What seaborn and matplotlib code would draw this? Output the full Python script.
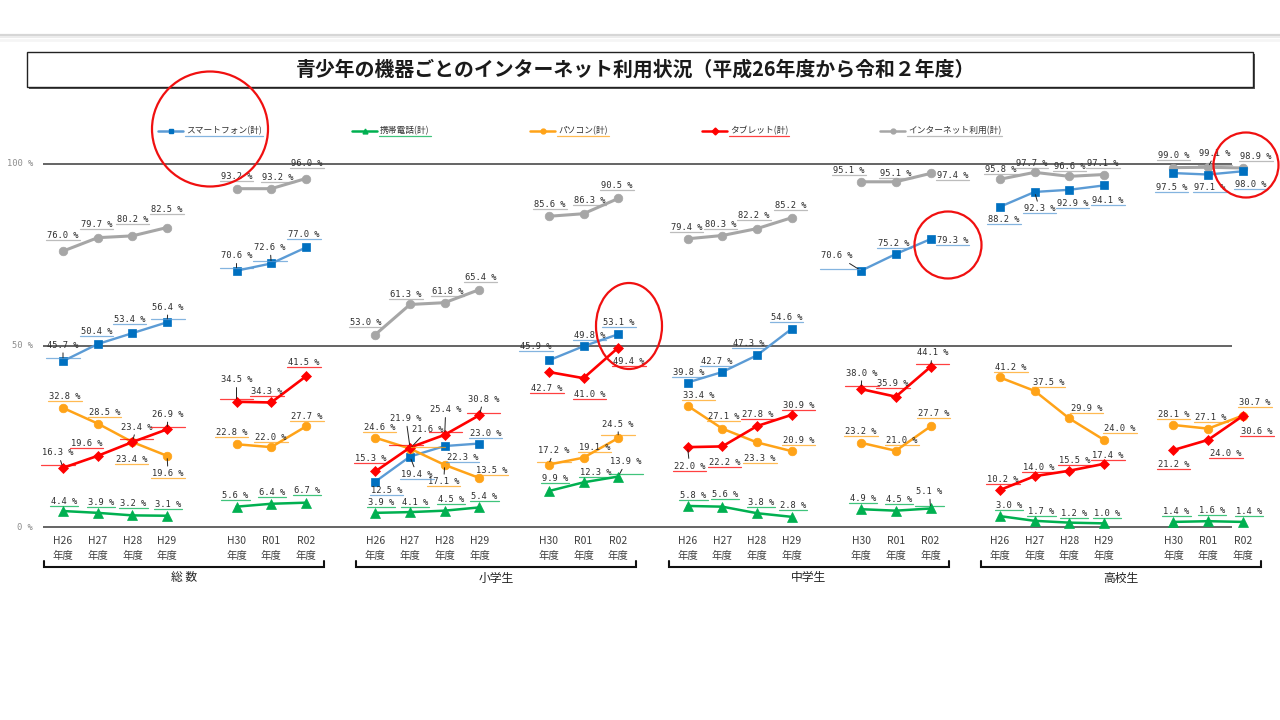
import numpy as np
import pandas as pd
import matplotlib
matplotlib.use("Agg")
import matplotlib.pyplot as plt
from matplotlib.lines import Line2D
from matplotlib.patches import Rectangle, Ellipse
from matplotlib.transforms import IdentityTransform
import seaborn as sns

# --- data -----------------------------------------------------------------
groups = ["総数", "小学生", "中学生", "高校生"]
group_titles = ["総 数", "小学生", "中学生", "高校生"]
years = ["H26", "H27", "H28", "H29", "H30", "R01", "R02"]
devices = ["スマートフォン(計)", "携帯電話(計)", "パソコン(計)", "タブレット(計)", "インターネット利用(計)"]

# one list per group (総数, 小学生, 中学生, 高校生), values for H26..R02
smartphone = [[45.7, 50.4, 53.4, 56.4, 70.6, 72.6, 77.0],
              [12.5, 19.4, 22.3, 23.0, 45.9, 49.8, 53.1],
              [39.8, 42.7, 47.3, 54.6, 70.6, 75.2, 79.3],
              [88.2, 92.3, 92.9, 94.1, 97.5, 97.1, 98.0]]
keitai = [[4.4, 3.9, 3.2, 3.1, 5.6, 6.4, 6.7],
          [3.9, 4.1, 4.5, 5.4, 9.9, 12.3, 13.9],
          [5.8, 5.6, 3.8, 2.8, 4.9, 4.5, 5.1],
          [3.0, 1.7, 1.2, 1.0, 1.4, 1.6, 1.4]]
pasokon = [[32.8, 28.5, 23.4, 19.6, 22.8, 22.0, 27.7],
           [24.6, 21.6, 17.1, 13.5, 17.2, 19.1, 24.5],
           [33.4, 27.1, 23.3, 20.9, 23.2, 21.0, 27.7],
           [41.2, 37.5, 29.9, 24.0, 28.1, 27.1, 30.7]]
tablet = [[16.3, 19.6, 23.4, 26.9, 34.5, 34.3, 41.5],
          [15.3, 21.9, 25.4, 30.8, 42.7, 41.0, 49.4],
          [22.0, 22.2, 27.8, 30.9, 38.0, 35.9, 44.1],
          [10.2, 14.0, 15.5, 17.4, 21.2, 24.0, 30.6]]
internet = [[76.0, 79.7, 80.2, 82.5, 93.2, 93.2, 96.0],
            [53.0, 61.3, 61.8, 65.4, 85.6, 86.3, 90.5],
            [79.4, 80.3, 82.2, 85.2, 95.1, 95.1, 97.4],
            [95.8, 97.7, 96.6, 97.1, 99.0, 99.1, 98.9]]
values = [smartphone, keitai, pasokon, tablet, internet]

# --- styles ---------------------------------------------------------------
line_colors = ["#5B9BD5", "#00B050", "#FFA318", "#FF0000", "#A6A6A6"]
mark_colors = ["#0070C0", "#00B050", "#FFA318", "#FF0000", "#A6A6A6"]
markers = ["s", "^", "o", "D", "o"]
mark_sizes = [6.4, 6.5, 6.2, 5.6, 6.2]
line_widths = [1.7, 1.8, 1.8, 1.9, 2.2]
draw_order = [4, 0, 2, 3, 1]

# label offsets in pixels (dx, dy; dy positive = downwards)
label_offsets = [
    [[(0, -16), (-1, -13), (-3, -14), (1, -15), (0, -15), (-1, -16), (-2, -13)],
     [(11, 9), (7, 18), (18, 11), (6, -10), (-13, -14), (6, -11), (1, -12)],
     [(1, -10), (-6, -10), (-8, -12), (-5, -11), (-24, -15), (-2, -11), (22, 1)],
     [(4, 13), (5, 17), (3, 14), (4, 15), (-2, 14), (2, 13), (8, 13)]],
    [[(1, -10), (3, -10), (1, -12), (1, -11), (-1, -11), (1, -11), (1, -12)],
     [(6, -10), (5, -10), (6, -11), (5, -11), (6, -13), (12, -10), (8, -15)],
     [(6, -10), (3, -12), (4, -11), (1, -11), (2, -11), (3, -11), (-1, -17)],
     [(9, -11), (7, -9), (5, -9), (3, -10), (3, -10), (4, -11), (6, -10)]],
    [[(2, -11), (7, -11), (-1, 17), (1, 18), (-5, -12), (0, -10), (1, -10)],
     [(4, -10), (18, -19), (-1, 17), (12, -7), (5, -14), (11, -10), (0, -14)],
     [(11, -10), (1, -12), (3, 16), (7, -11), (0, -11), (6, -10), (3, -13)],
     [(11, -10), (14, -8), (17, -10), (16, -11), (0, -10), (3, -11), (12, -13)]],
    [[(-5, -15), (-11, -12), (4, -15), (1, -15), (0, -22), (-4, -11), (-2, -14)],
     [(-5, -13), (-4, -29), (1, -25), (4, -16), (-2, 17), (6, 16), (11, 14)],
     [(2, 19), (2, 16), (1, -12), (7, -9), (1, -16), (-3, -13), (2, -14)],
     [(3, -10), (4, -9), (5, -10), (4, -8), (0, 14), (18, 14), (14, 16)]],
    [[(0, -16), (-1, -13), (0, -16), (0, -18), (0, -12), (7, -11), (1, -15)],
     [(-10, -12), (-4, -10), (3, -11), (1, -12), (1, -12), (6, -13), (-1, -13)],
     [(-1, -11), (-2, -11), (-3, -13), (-1, -12), (-12, -11), (0, -8), (22, 2)],
     [(1, -10), (-3, -9), (0, -10), (-1, -11), (0, -12), (7, -14), (13, -11)]],
]
leaders = {(0, 0, 0), (0, 0, 3), (0, 0, 4), (0, 0, 5), (3, 0, 0), (3, 0, 2), (3, 0, 3),
           (3, 0, 4), (2, 0, 3), (0, 1, 1), (2, 1, 1), (2, 1, 2), (2, 1, 4), (3, 1, 1),
           (3, 1, 2), (3, 1, 3), (1, 1, 6), (2, 1, 6), (0, 2, 4), (3, 2, 0), (3, 2, 4),
           (3, 2, 6), (1, 2, 6), (0, 3, 1), (4, 3, 5)}

slots = [0, 1, 2, 3, 5, 6, 7]
group_stride = 9

# pixel <-> data mapping of the drawing area
X0, DX = 63, 34.7
Y0, DY = 527, 3.63
W, H = 1280, 720


def xd(px):
    return (px - X0) / DX


def yd(py):
    return (Y0 - py) / DY


rows = []
for d, dev in enumerate(devices):
    for g, grp in enumerate(groups):
        for i, yr in enumerate(years):
            rows.append(dict(device=dev, d=d, group=grp, g=g, i=i, year=yr,
                             x=g * group_stride + slots[i], value=values[d][g][i],
                             segment=f"{grp}-{0 if i < 4 else 1}"))
df = pd.DataFrame(rows)

sns.set_theme(style="white")
plt.rcParams["font.family"] = ["Noto Sans CJK JP", "DejaVu Sans"]

fig = plt.figure(figsize=(12.8, 7.2), dpi=100)
ax = fig.add_axes([0, 0, 1, 1])
ax.set_xlim(xd(0), xd(W))
ax.set_ylim(yd(H), yd(0))
ax.axis("off")

# top page strip
for yy, c, lw in [(35, "#d6d6d6", 1.6), (37, "#ececec", 1.5), (39.5, "#f5f5f5", 2)]:
    fig.add_artist(Line2D([0, 1], [1 - yy / H] * 2, transform=fig.transFigure, color=c, lw=lw))

# title box
fig.add_artist(Rectangle((29 / W, 1 - 89 / H), 1226 / W, 35 / H, transform=fig.transFigure,
                         facecolor="#555555", edgecolor="none"))
fig.add_artist(Rectangle((27 / W, 1 - 87 / H), 1226 / W, 35 / H, transform=fig.transFigure,
                         facecolor="white", edgecolor="#222222", lw=1.0))
fig.text(636 / W, 1 - 69 / H, "青少年の機器ごとのインターネット利用状況（平成26年度から令和２年度）",
         ha="center", va="center", fontsize=14.3, fontweight="bold", color="#1a1a1a")

# reference lines
ax.hlines([0, 50, 100], xd(43), xd(1232), color="#3a3a3a", lw=1.1, zorder=1)
for v in [0, 50, 100]:
    ax.text(xd(33), v, f"{v} %", ha="right", va="center", fontsize=6.3,
            family="DejaVu Sans Mono", color="#8c8c8c")

# series
for d in draw_order:
    sub = df[df["d"] == d]
    sns.lineplot(data=sub, x="x", y="value", units="segment", estimator=None, sort=False,
                 color=line_colors[d], lw=line_widths[d], marker=markers[d],
                 markersize=mark_sizes[d], markerfacecolor=mark_colors[d],
                 markeredgecolor=mark_colors[d], markeredgewidth=0.5,
                 legend=False, ax=ax, zorder=3 + draw_order.index(d))

# data labels
labels = []
for _, r in df.iterrows():
    d, g, i = int(r["d"]), int(r["g"]), int(r["i"])
    ox, oy = label_offsets[d][g][i]
    kw = {}
    if (d, g, i) in leaders:
        kw["arrowprops"] = dict(arrowstyle="-", color="#222222", lw=0.7, shrinkA=0, shrinkB=2)
    t = ax.annotate(f"{r['value']:.1f} %", xy=(r["x"], r["value"]), xytext=(ox, -oy),
                    textcoords="offset pixels", ha="center", va="center", fontsize=6.3,
                    family="DejaVu Sans Mono", color="#2e2e2e", zorder=10, **kw)
    labels.append((t, line_colors[d]))

# x labels and group brackets
for g, title in enumerate(group_titles):
    base = g * group_stride
    for i, yr in enumerate(years):
        ax.text(base + slots[i], yd(541), yr, ha="center", va="center", fontsize=7.5,
                color="#404040")
        ax.text(base + slots[i], yd(556), "年度", ha="center", va="center", fontsize=7.5,
                color="#404040")
    bx = [base + xd(44), base + xd(44), base + xd(324), base + xd(324)]
    ax.plot(bx, [yd(561), yd(567), yd(567), yd(561)], color="#111111", lw=1.5,
            solid_joinstyle="miter")
    ax.text(base + xd(184), yd(578), title, ha="center", va="center", fontsize=8.5,
            color="#222222")

# legend drawn by hand
legend_x = [158, 352, 530, 702, 880]
for d, dev in enumerate(devices):
    lx = legend_x[d]
    fig.add_artist(Line2D([lx / W, (lx + 25) / W], [1 - 131 / H] * 2, transform=fig.transFigure,
                          color=line_colors[d], lw=1.8))
    fig.add_artist(Line2D([(lx + 12.5) / W], [1 - 131 / H], transform=fig.transFigure,
                          marker=markers[d], markersize=3.5, color=mark_colors[d], lw=0))
    t = fig.text((lx + 28) / W, 1 - 131 / H, dev, ha="left", va="center", fontsize=6.3,
                 color="#333333")
    labels.append((t, line_colors[d]))

# underline the labels in their series colours
fig.canvas.draw()
renderer = fig.canvas.get_renderer()
for t, c in labels:
    bb = t.get_window_extent(renderer)
    fig.add_artist(Line2D([bb.x0 - 1, bb.x1 + 1], [bb.y0, bb.y0], transform=IdentityTransform(),
                          color=c, lw=0.9, alpha=0.75))

# red marker circles
for cx, cy, w, h in [(210, 129, 116, 115), (629, 326, 66, 86), (948, 245, 67, 67),
                     (1246, 165, 65, 65)]:
    fig.add_artist(Ellipse((cx / W, 1 - cy / H), w / W, h / H, transform=fig.transFigure,
                           fill=False, edgecolor="#F01010", lw=1.6, zorder=20))

fig.savefig("out.png", dpi=100)
